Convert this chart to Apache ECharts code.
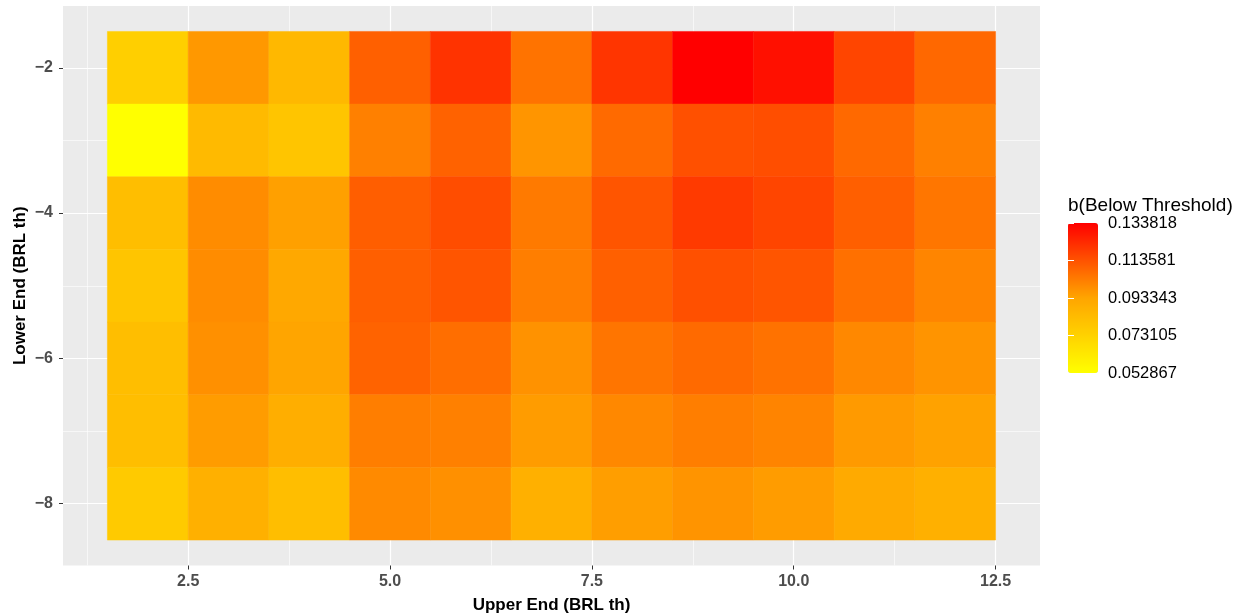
<!DOCTYPE html>
<html>
<head>
<meta charset="utf-8">
<title>b(Below Threshold)</title>
<script src="https://cdn.jsdelivr.net/npm/echarts@6.0.0/dist/echarts.min.js"></script>
<style>
html, body { margin: 0; padding: 0; background: #fff; }
#main { width: 1244px; height: 615px; }
</style>
</head>
<body>
<div id="main"></div>
<script>
// ------------- data -------------
var upperEnd = [2, 3, 4, 5, 6, 7, 8, 9, 10, 11, 12];
var lowerEnd = [-2, -3, -4, -5, -6, -7, -8];

// one row per lowerEnd value, one column per upperEnd value
var belowThreshold = [
    [0.0745, 0.0965, 0.0848, 0.1103, 0.1213, 0.1056, 0.1208, 0.1338, 0.1299, 0.1169, 0.1083],
    [0.0529, 0.0839, 0.0789, 0.1024, 0.1098, 0.0973, 0.1078, 0.1142, 0.1147, 0.1081, 0.1024],
    [0.0821, 0.0995, 0.0946, 0.1108, 0.1149, 0.1039, 0.1130, 0.1196, 0.1169, 0.1105, 0.1049],
    [0.0789, 0.0995, 0.0920, 0.1105, 0.1130, 0.1029, 0.1103, 0.1142, 0.1130, 0.1063, 0.1012],
    [0.0821, 0.0985, 0.0933, 0.1095, 0.1068, 0.0980, 0.1051, 0.1078, 0.1058, 0.1005, 0.0975],
    [0.0821, 0.0955, 0.0893, 0.1029, 0.1024, 0.0955, 0.1005, 0.1029, 0.1014, 0.0960, 0.0941],
    [0.0767, 0.0884, 0.0821, 0.1000, 0.0985, 0.0884, 0.0951, 0.0975, 0.0955, 0.0911, 0.0884]
];

var xTicks = [2.5, 5, 7.5, 10, 12.5];
var xMinorTicks = [1.25, 3.75, 6.25, 8.75, 11.25];
var yTicks = [-8, -6, -4, -2];
var yMinorTicks = [-7, -5, -3];
var legendBreaks = [0.052867, 0.073105, 0.093343, 0.113581, 0.133818];
var scaleMin = 0.052867;
var scaleMax = 0.133818;

var tileData = [];
lowerEnd.forEach(function (y, i) {
    upperEnd.forEach(function (x, j) {
        tileData.push([x, y, belowThreshold[i][j]]);
    });
});

var chart = echarts.init(document.getElementById('main'));

var font = 'Liberation Sans, Arial, Helvetica, sans-serif';
var minus = function (v) { return String(v).replace('-', '\u2212'); };

var option = {
    animation: false,
    textStyle: { fontFamily: font },
    grid: [{
        left: 63, right: 204, top: 6, bottom: 49.5,
        outerBoundsMode: 'none', containLabel: false,
        show: true, backgroundColor: '#EBEBEB', borderWidth: 0
    }, {
        // holds the colour bar labels
        left: 1068, top: 223, width: 30, height: 150,
        outerBoundsMode: 'none', containLabel: false
    }],
    graphic: [{
        type: 'text',
        left: 1068, top: 196,
        style: { text: 'b(Below Threshold)', fontSize: 19, fontFamily: font, fill: '#000' }
    }],
    xAxis: [{
        type: 'value', gridIndex: 0, min: 0.95, max: 13.05,
        name: 'Upper End (BRL th)', nameLocation: 'middle', nameGap: 31, nameMoveOverlap: false,
        nameTextStyle: { fontSize: 17, fontWeight: 'bold', color: '#000' },
        axisLine: { show: false },
        axisTick: { show: true, length: 4, customValues: xTicks, lineStyle: { color: '#333', width: 1 } },
        axisLabel: {
            customValues: xTicks, margin: 8, fontSize: 16, fontWeight: 'bold', color: '#4D4D4D',
            formatter: function (v) { return v.toFixed(1); }
        },
        splitLine: { show: true, lineStyle: { color: '#fff', width: 1.2 } }
    }, {
        // minor grid lines
        type: 'value', gridIndex: 0, position: 'top', min: 0.95, max: 13.05,
        axisLine: { show: false },
        axisTick: { show: false, customValues: xMinorTicks },
        axisLabel: { show: false, customValues: xMinorTicks },
        splitLine: { show: true, lineStyle: { color: '#fff', width: 0.6 } }
    }, {
        type: 'value', gridIndex: 1, show: false, min: 0, max: 1
    }],
    yAxis: [{
        type: 'value', gridIndex: 0, min: -8.85, max: -1.15,
        name: 'Lower End (BRL th)', nameLocation: 'middle', nameGap: 34, nameMoveOverlap: false,
        nameTextStyle: { fontSize: 17, fontWeight: 'bold', color: '#000' },
        axisLine: { show: false },
        axisTick: { show: true, length: 4, customValues: yTicks, lineStyle: { color: '#333', width: 1 } },
        axisLabel: {
            customValues: yTicks, margin: 10, fontSize: 16, fontWeight: 'bold', color: '#4D4D4D',
            formatter: minus
        },
        splitLine: { show: true, lineStyle: { color: '#fff', width: 1.2 } }
    }, {
        type: 'value', gridIndex: 0, position: 'right', min: -8.85, max: -1.15,
        axisLine: { show: false },
        axisTick: { show: false, customValues: yMinorTicks },
        axisLabel: { show: false, customValues: yMinorTicks },
        splitLine: { show: true, lineStyle: { color: '#fff', width: 0.6 } }
    }, {
        // colour bar labels + ticks (right side)
        type: 'value', gridIndex: 1, position: 'right', min: scaleMin, max: scaleMax, z: 10,
        axisLine: { show: false },
        axisTick: { show: true, inside: true, length: 6, customValues: legendBreaks, lineStyle: { color: '#fff', width: 1 } },
        axisLabel: {
            customValues: legendBreaks, margin: 10, fontSize: 16.5, color: '#000',
            formatter: function (v) { return v.toFixed(6); }
        },
        splitLine: { show: false }
    }, {
        // colour bar ticks (left side)
        type: 'value', gridIndex: 1, position: 'left', min: scaleMin, max: scaleMax, z: 10,
        axisLine: { show: false },
        axisTick: { show: true, inside: true, length: 6, customValues: legendBreaks, lineStyle: { color: '#fff', width: 1 } },
        axisLabel: { show: false, customValues: legendBreaks },
        splitLine: { show: false }
    }],
    visualMap: {
        type: 'continuous',
        seriesIndex: 0,
        dimension: 2,
        min: scaleMin,
        max: scaleMax,
        calculable: false,
        showLabel: false,
        text: null,
        orient: 'vertical',
        left: 1068,
        top: 223,
        padding: 0,
        itemWidth: 30,
        itemHeight: 150,
        inRange: { color: ['#FFFF00', '#FFA500', '#FF0000'] }
    },
    series: [{
        name: 'b(Below Threshold)',
        type: 'custom',
        xAxisIndex: 0,
        yAxisIndex: 0,
        z: 2,
        renderItem: function (params, api) {
            var x = api.value(0), y = api.value(1);
            var p1 = api.coord([x - 0.5, y + 0.5]);
            var p2 = api.coord([x + 0.5, y - 0.5]);
            var c = api.visual('color');
            return {
                type: 'rect',
                shape: { x: p1[0], y: p1[1], width: p2[0] - p1[0], height: p2[1] - p1[1] },
                style: { fill: c, stroke: c, lineWidth: 0.5 }
            };
        },
        encode: { x: 0, y: 1 },
        data: tileData
    }]
};

chart.setOption(option);
</script>
</body>
</html>
